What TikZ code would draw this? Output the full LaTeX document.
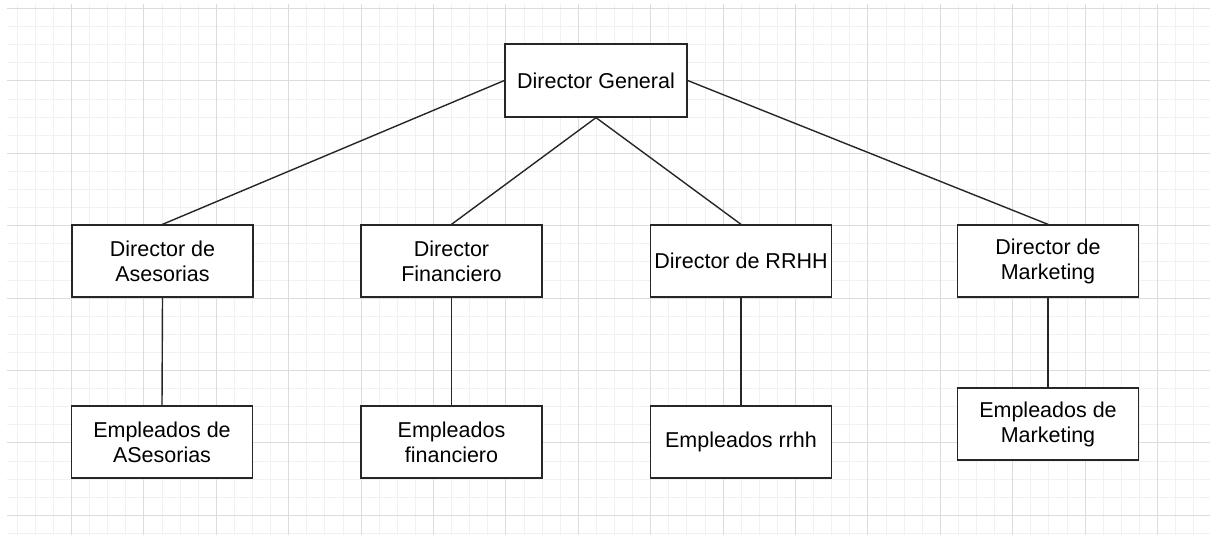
\documentclass[tikz,border=0pt]{standalone}
\usepackage{fontspec}
\setmainfont{Liberation Sans}
\definecolor{minorc}{HTML}{F1F1F1}
\definecolor{majorc}{HTML}{DCDCDC}
\begin{document}
\begin{tikzpicture}[x=1pt,y=-1pt,
  box/.style={draw=black!85, line width=1.3pt, fill=white, rectangle, inner sep=0pt,
    minimum width=181pt, minimum height=72pt, align=center,
    font=\fontsize{21.5}{25}\selectfont},
  link/.style={draw=black!85, line width=1.4pt},
  minorgrid/.style={draw=minorc, line width=1pt},
  majorgrid/.style={draw=majorc, line width=1.4pt}]
\useasboundingbox (0,0) rectangle (1210,535);
\begin{scope}
\clip (7,4) rectangle (1210,535);
\foreach \k in {-4,...,63} {\pgfmathsetmacro{\xx}{round(71+18.1*\k)+0.5}\draw[minorgrid] (\xx,4) -- (\xx,535);}
\foreach \k in {0,...,30} {\pgfmathsetmacro{\yy}{round(8+18.1*\k)+0.5}\draw[minorgrid] (7,\yy) -- (1210,\yy);}
\foreach \m in {-1,...,16} {\pgfmathsetmacro{\xx}{round(71+72.4*\m)+0.5}\draw[majorgrid] (\xx,4) -- (\xx,535);}
\foreach \m in {0,...,7} {\pgfmathsetmacro{\yy}{round(8+72.4*\m)+0.5}\draw[majorgrid] (7,\yy) -- (1210,\yy);}
\end{scope}
\node[box, minimum width=182pt, minimum height=73pt] (dg) at (596,80.5) {Director General};
\node[box] (da) at (162.5,261) {Director de\\Asesorias};
\node[box] (df) at (451.5,261) {Director\\Financiero};
\node[box] (dr) at (741,261) {Director de RRHH};
\node[box] (dm) at (1048,261) {Director de\\Marketing};
\node[box] (ea) at (162,442) {Empleados de\\ASesorias};
\node[box] (ef) at (451.5,442) {Empleados\\financiero};
\node[box] (er) at (741,442) {Empleados rrhh};
\node[box] (em) at (1048,424) {Empleados de\\Marketing};
\draw[link] (dg.west) -- (da.north);
\draw[link] (dg.south) -- (df.north);
\draw[link] (dg.south) -- (dr.north);
\draw[link] (dg.east) -- (dm.north);
\draw[link] (da.south) -- (ea.north);
\draw[link] (df.south) -- (ef.north);
\draw[link] (dr.south) -- (er.north);
\draw[link] (dm.south) -- (em.north);
\end{tikzpicture}
\end{document}
